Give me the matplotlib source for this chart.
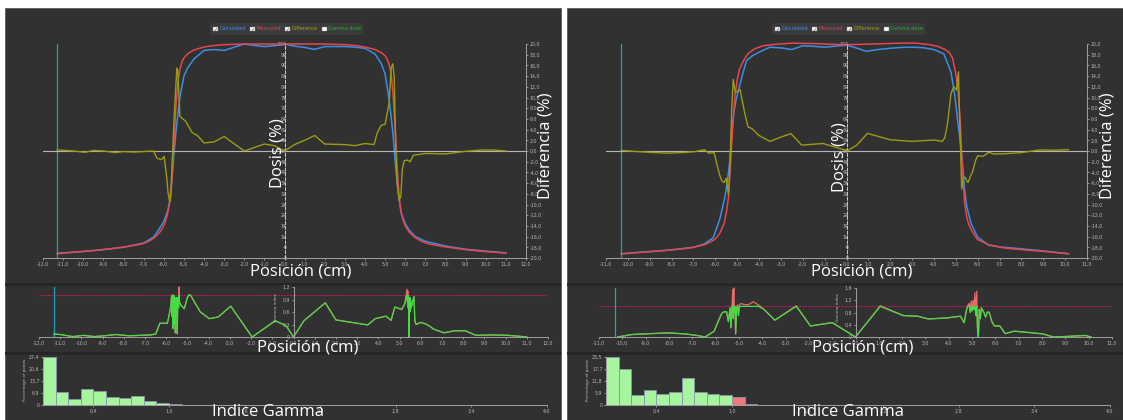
import matplotlib
matplotlib.use('Agg')
import matplotlib.pyplot as plt
from matplotlib.patches import Rectangle, FancyBboxPatch
from matplotlib.ticker import FuncFormatter, FixedLocator, MultipleLocator
import numpy as np

W, H = 1123, 420

# ---------------- left panel data ----------------
L_meas_x = [-11.3, -10.5, -9.5, -8.5, -7.5, -7.0, -6.7, -6.4, -6.2, -6.0, -5.9, -5.8, -5.7, -5.6,
            -5.5, -5.4, -5.3, -5.2, -5.1, -5.0, -4.8, -4.5, -4.0, -3.5, -3.0, -2.0, -1.0, 0.0, 1.0,
            2.0, 3.0, 3.5, 4.0, 4.5, 4.8, 5.0, 5.1, 5.2, 5.3, 5.4, 5.5, 5.6, 5.7, 5.8, 5.9, 6.0,
            6.2, 6.5, 6.8, 7.2, 8.0, 9.0, 10.0, 11.0]
L_meas_y = [2.0, 2.7, 3.5, 4.5, 5.8, 6.8, 8.0, 10.0, 12.0, 15.0, 17.5, 21, 26, 36,
            52, 70, 82, 88, 91.5, 93.5, 95.5, 97.2, 98.6, 99.3, 99.7, 100, 100, 100, 100,
            100, 99.7, 99.3, 98.6, 97.4, 96, 94.5, 93, 90.5, 86, 76, 60, 42, 28, 21, 17.5, 15,
            12, 9.5, 7.8, 6.5, 5.2, 3.9, 3.0, 2.3]
L_calc_x = [-11.3, -10, -9, -8, -7, -6.5, -6.3, -6.0, -5.8, -5.7, -5.6, -5.5, -5.4, -5.3, -5.2,
            -5.1, -5.0, -4.8, -4.5, -4.0, -3.5, -3.0, -2.5, -2.0, -1.5, -1.0, -0.5, 0.0, 0.5,
            1.0, 1.5, 2.0, 2.5, 3.0, 3.5, 4.0, 4.5, 4.8, 5.0, 5.1, 5.2, 5.3, 5.4, 5.5, 5.6,
            5.7, 5.8, 6.0, 6.2, 6.5, 7.0, 8.0, 9.0, 10.0, 11.0]
L_calc_y = [2.2, 3.0, 3.9, 5.0, 7.0, 9.8, 12.5, 17, 22, 27, 36, 48, 58, 67, 75,
            80, 85, 89, 93, 97, 97.4, 97.0, 98.5, 100, 99.3, 98.8, 99.2, 100, 99,
            98.4, 97.5, 98.8, 98.8, 98.8, 98.5, 98.0, 95.3, 91, 86, 80, 74, 66, 57, 45, 35,
            27, 21, 16, 13, 10, 7.8, 5.6, 4.1, 3.2, 2.4]
L_diff_x = [-11.3, -10.5, -9.9, -9.5, -9.0, -8.4, -8.0, -7.5, -7.0, -6.5, -6.35, -6.15, -6.05,
            -5.98, -5.85, -5.78, -5.7, -5.65, -5.58, -5.5, -5.4, -5.35, -5.3, -5.2, -5.05, -4.9,
            -4.6, -4.3, -4.0, -3.5, -3.0, -2.0, -1.0, -0.5, 0.0, 0.5, 1.0, 1.5, 2.0, 3.0, 3.5,
            4.0, 4.45, 4.6, 4.8, 5.0, 5.2, 5.3, 5.38, 5.45, 5.52, 5.6, 5.7, 5.78, 5.85, 5.95,
            6.1, 6.25, 6.4, 7.0, 8.0, 8.9, 9.8, 10.5, 11.0]
L_diff_y = [0.2, 0.0, -0.25, 0.1, 0.0, -0.3, -0.1, -0.2, -0.1, 0.0, -1.3, -1.6, -1.4,
            -1.0, -5.0, -8.0, -9.5, -8.5, -2.0, 5.0, 12.0, 15.5, 15.0, 6.5, 6.0, 5.5,
            3.5, 2.8, 1.5, 1.7, 2.7, 0.0, 1.3, 1.0, 0.0, 1.2, 2.0, 2.9, 1.3, 1.2, 1.0,
            1.4, 1.2, 3.3, 4.8, 5.0, 9.0, 15.5, 16.3, 14.0, 2.0, -6.0, -9.2, -8.5, -3.5, -1.8,
            -1.7, -2.0, -0.8, -0.45, -0.55, -0.1, 0.2, 0.15, 0.0]
L_gam_x = [-11.3, -11.0, -10.4, -9.9, -9.4, -8.9, -8.4, -7.75, -7.2, -6.75, -6.5, -6.3, -5.95,
           -5.88, -5.8, -5.75, -5.73, -5.71, -5.69, -5.67, -5.65, -5.63, -5.61, -5.59, -5.57,
           -5.55, -5.53, -5.51, -5.49, -5.48, -5.46, -5.44, -5.42, -5.4, -5.38, -5.31, -5.15,
           -5.0, -4.93, -4.85, -4.73, -4.39, -3.97, -3.55, -2.96, -1.95, -0.86, -0.35, 0.0, 0.49,
           1.5, 2.0, 3.5, 3.85, 4.36, 4.6, 4.78, 5.1, 5.25, 5.3, 5.35, 5.37, 5.39, 5.41, 5.43,
           5.45, 5.47, 5.49, 5.51, 5.55, 5.62, 5.68, 5.72, 5.78, 6.0, 6.25, 6.45, 6.6, 7.1, 7.6,
           8.1, 8.6, 9.4, 10.1, 10.6, 11.0]
L_gam_y = [0.07, 0.06, 0.01, 0.04, 0.01, 0.03, 0.06, 0.03, 0.04, 0.05, 0.07, 0.33, 0.33,
           0.48, 0.7, 0.97, 0.5, 1.02, 0.2, 0.9, 0.6, 1.0, 0.3, 0.85, 0.1,
           0.75, 0.95, 0.6, 0.9, 0.08, 0.8, 0.95, 0.7, 1.2, 0.85, 0.76, 0.68,
           0.95, 1.02, 1.0, 0.89, 0.6, 0.44, 0.48, 0.74, 0.0, 0.39, 0.27, 0.0, 0.39,
           0.82, 0.41, 0.29, 0.44, 0.5, 0.4, 0.72, 0.66, 0.8, 0.95, 1.15, 0.85, 1.1, 0.7, 0.95,
           0.0, 0.9, 0.6, 0.95, 0.7, 0.85, 0.97, 0.4, 0.3, 0.35, 0.31, 0.25, 0.19, 0.1, 0.15,
           0.15, 0.04, 0.05, 0.04, 0.02, 0.0]
L_hist = [27.4, 7.4, 3.2, 9.3, 7.9, 4.7, 3.8, 5.1, 2.1, 1.3, 0.8, 0.2, 0.15, 0.1, 0.1]
L_hist_ticklabels = ['0', '6,9', '13,7', '20,6', '27,4']

# ---------------- right panel data ----------------
R_meas_x = [-10.3, -9.5, -8.5, -7.5, -7.0, -6.5, -6.2, -6.0, -5.8, -5.6, -5.5, -5.4, -5.3, -5.2,
            -5.1, -5.0, -4.9, -4.7, -4.5, -4.2, -3.8, -3.3, -2.5, -1.5, -0.5, 0.0, 0.5, 1.5,
            2.5, 3.2, 3.8, 4.2, 4.5, 4.7, 4.85, 5.0, 5.1, 5.2, 5.3, 5.4, 5.5, 5.6, 5.7, 5.9,
            6.0, 6.5, 7.2, 8.0, 9.0, 10.15]
R_meas_y = [1.9, 2.6, 3.3, 4.3, 5.0, 6.2, 7.6, 8.9, 11.5, 16, 21, 28, 45, 62,
            76, 83, 88, 92.5, 95.5, 97.8, 99.2, 99.8, 100.4, 100.2, 99.8, 99.7, 99.8, 100.1,
            100.4, 100.4, 99.7, 98.8, 97.5, 96, 93.5, 86, 79, 64, 42, 26, 19, 15.5, 13.3, 10,
            8.6, 6.2, 4.7, 3.9, 3.1, 2.0]
R_calc_x = [-10.3, -9.0, -8.0, -7.0, -6.5, -6.1, -5.8, -5.55, -5.45, -5.35, -5.25, -5.15, -5.05,
            -4.9, -4.75, -4.57, -4.3, -4.0, -3.5, -3.0, -2.5, -2.0, -1.5, -1.0, -0.5, 0.0, 0.5,
            0.9, 1.5, 2.0, 2.5, 3.0, 3.5, 4.0, 4.45, 4.78, 4.95, 5.1, 5.2, 5.3, 5.4, 5.5, 5.7,
            6.0, 6.5, 7.0, 8.0, 9.0, 10.15]
R_calc_y = [2.0, 3.0, 3.8, 5.0, 6.6, 9.4, 18, 29, 36, 44, 58, 68, 74,
            80, 86, 92.3, 94.5, 96.2, 98.5, 98.2, 97.4, 99.2, 98.9, 98.5, 99.0, 99.5, 98.0,
            96.6, 97.5, 98.0, 98.4, 98.5, 98.3, 97.4, 95.4, 86.9, 76, 63, 55, 45, 32, 24, 16,
            9.7, 6.0, 5.2, 4.3, 3.3, 2.0]
R_diff_x = [-10.3, -9.6, -9.0, -8.2, -7.5, -6.9, -6.5, -6.3, -6.05, -5.95, -5.8, -5.7, -5.6,
            -5.5, -5.4, -5.32, -5.25, -5.18, -5.1, -5.05, -4.87, -4.65, -4.5, -4.33, -4.0, -3.5,
            -3.0, -2.54, -2.05, -1.07, -0.5, 0.05, 0.47, 0.96, 2.0, 3.0, 4.0, 4.38, 4.5, 4.62,
            4.78, 4.91, 5.03, 5.12, 5.18, 5.27, 5.35, 5.43, 5.5, 5.56, 5.68, 5.76, 5.9, 6.0,
            6.25, 6.5, 6.74, 7.3, 8.0, 8.85, 9.5, 10.15]
R_diff_y = [0.1, -0.1, -0.25, -0.4, -0.3, -0.1, 0.25, -0.4, -0.3, -2.1, -4.5, -5.6, -5.9,
            -5.1, -8.1, -2.0, 8.0, 13.4, 11.2, 11.0, 11.5, 7.0, 4.5, 4.2, 2.9, 1.8,
            2.6, 3.25, 1.1, 1.4, 0.7, 0.05, 1.1, 3.3, 2.1, 1.8, 2.05, 1.8, 2.5, 5.1,
            10.75, 12.0, 11.4, 14.8, 5.0, -7.1, -5.0, -4.9, -5.6, -5.9, -4.6, -4.0, -1.8, -0.9,
            -1.0, -0.25, -0.56, -0.5, -0.3, 0.2, 0.15, 0.25]
R_gam_x = [-10.2, -9.6, -8.8, -8.05, -7.3, -6.8, -6.45, -6.06, -5.91, -5.75, -5.68, -5.53, -5.45,
           -5.38, -5.34, -5.3, -5.26, -5.24, -5.22, -5.2, -5.17, -5.14, -5.1, -5.06, -5.02,
           -4.98, -4.92, -4.75, -4.61, -4.45, -4.38, -4.15, -3.92, -3.46, -2.54, -1.93, -1.0,
           0.0, 1.06, 2.05, 2.66, 3.12, 3.89, 4.5, 4.66, 4.75, 4.81, 4.88, 4.92, 4.96, 5.0,
           5.04, 5.08, 5.12, 5.16, 5.2, 5.23, 5.27, 5.31, 5.35, 5.4, 5.5, 5.58, 5.65, 5.73,
           5.85, 5.96, 6.19, 6.42, 6.8, 7.26, 8.03, 8.5, 9.1, 9.86, 10.1]
R_gam_y = [0.0, 0.08, 0.11, 0.135, 0.1, 0.05, 0.0, 0.19, 0.47, 0.75, 0.81, 0.83, 0.5,
           0.95, 0.3, 1.0, 1.55, 0.6, 1.6, 0.8, 1.0, 0.1, 0.95, 1.05, 0.7,
           1.05, 1.09, 1.06, 1.05, 1.12, 1.15, 1.04, 0.9, 0.55, 1.02, 0.36, 0.47,
           0.0, 1.02, 0.7, 0.68, 0.59, 0.62, 0.68, 0.47, 0.85, 1.02, 1.1, 0.8, 1.17, 0.85,
           1.2, 0.9, 1.45, 0.7, 1.5, 0.3, 0.0, 0.9, 0.6, 0.95, 0.81, 0.65, 0.81, 0.81,
           0.5, 0.36, 0.36, 0.11, 0.19, 0.16, 0.1, 0.0, 0.02, 0.05, 0.0]
R_hist = [23.5, 17.4, 4.9, 7.4, 5.3, 6.6, 13.1, 6.6, 5.3, 4.9, 4.1, 0.7, 0.2, 0.1, 0.1, 0.05]
R_hist_ticklabels = ['0', '5,9', '11,8', '17,7', '23,5']

HIST_XTICKS = [0.4, 1.0, 1.6, 2.2, 2.8, 3.4, 4.0]
LEGEND_ITEMS = [("Calculated", "#3f8fe0", True), ("Measured", "#d9434f", True),
                ("Difference", "#a3a31a", True), ("Gamma dose", "#22b022", False)]

BG = '#313131'
BAND = '#262626'
TICK = '#b8b8b8'
C_CALC = '#3a8ee8'
C_MEAS = '#e8464c'
C_DIFF = '#9c9c12'
C_GREEN = '#44dd44'
C_RED = '#e86a6a'
C_CYAN = '#1aa6b8'
TS = 3.4  # tick label size

BIG = dict(family='Open Sans', fontsize=12, color='white')


def comma(v, pos=None):
    return f"{v:.1f}".replace('.', ',')


def px_axes(fig, x0, y0, x1, y1):
    ax = fig.add_axes([x0 / W, 1 - y1 / H, (x1 - x0) / W, (y1 - y0) / H])
    ax.set_facecolor('none')
    return ax


def fig_text(fig, x, y, s, **kw):
    fig.text(x / W, 1 - y / H, s, ha='center', va='center', **kw)


def style(ax):
    for sp in ax.spines.values():
        sp.set_color('#a0a0a0')
        sp.set_linewidth(0.7)
    ax.tick_params(colors=TICK, labelsize=TS, length=1.5, width=0.5, pad=1)


def draw_panel(fig, px0, px1, lay, meas, calc, diff, gam, hist, hist_labels, gstep, gmax):
    # panel background and separators
    fig.patches.append(Rectangle((px0 / W, 0), (px1 - px0) / W, 1 - 8 / H,
                                 transform=fig.transFigure, facecolor=BG,
                                 edgecolor='#5a5a5a', lw=0.6, zorder=-10))
    for yb in (283, 352):
        fig.patches.append(Rectangle((px0 / W, 1 - (yb + 3) / H), (px1 - px0) / W, 3 / H,
                                     transform=fig.transFigure, facecolor=BAND,
                                     edgecolor='none', zorder=-9))

    xmin, xmax = lay['xlim']

    # ---- main dose profile ----
    ax = px_axes(fig, *lay['main'])
    style(ax)
    ax.set_xlim(xmin, xmax)
    ax.set_ylim(0, 100)
    ax.spines['top'].set_visible(False)
    ax.spines['right'].set_visible(False)
    ax.spines['left'].set_position(('data', 0))
    ax.spines['left'].set_linestyle((0, (3, 2)))
    ax.spines['left'].set_color('#d0d0d0')
    ax.xaxis.set_major_locator(MultipleLocator(1))
    ax.xaxis.set_major_formatter(FuncFormatter(comma))
    ax.yaxis.set_major_locator(FixedLocator(range(0, 101, 5)))
    ax.tick_params(axis='y', pad=-3)
    ax.axvline(lay['cursor'], ymin=0, ymax=1, color=C_CYAN, lw=0.9)
    ax.plot(calc[0], calc[1], color=C_CALC, lw=1.1, clip_on=False)
    ax.plot(meas[0], meas[1], color=C_MEAS, lw=1.1, clip_on=False)

    ax2 = ax.twinx()
    style(ax2)
    ax2.set_ylim(-20, 20)
    for s in ('left', 'top', 'bottom'):
        ax2.spines[s].set_visible(False)
    ax2.yaxis.set_major_locator(MultipleLocator(2))
    ax2.yaxis.set_major_formatter(FuncFormatter(comma))
    ax2.axhline(0, color='#b5b5b5', lw=0.8)
    ax2.plot(diff[0], diff[1], color=C_DIFF, lw=1.0)

    # ---- gamma index ----
    g = px_axes(fig, *lay['gamma'])
    style(g)
    g.set_xlim(xmin, xmax)
    g.set_ylim(0, gmax)
    g.spines['top'].set_visible(False)
    g.spines['right'].set_visible(False)
    g.spines['left'].set_position(('data', 0))
    g.xaxis.set_major_locator(MultipleLocator(1))
    g.xaxis.set_major_formatter(FuncFormatter(comma))
    g.yaxis.set_major_locator(MultipleLocator(gstep))
    g.yaxis.set_major_formatter(FuncFormatter(lambda v, p: '0' if v == 0 else comma(v)))
    g.axhline(1.0, color='#c8185a', lw=0.8, ls=(0, (1.5, 1)))
    g.axvline(lay['cursor'], color=C_CYAN, lw=0.9)
    gy = np.array(gam[1])
    g.plot(gam[0], gy, color=C_RED, lw=0.9, clip_on=False)
    g.plot(gam[0], np.minimum(gy, 1.0), color=C_GREEN, lw=0.9)

    # ---- histogram ----
    h = px_axes(fig, *lay['hist'])
    style(h)
    edges = np.arange(len(hist)) * 0.1
    cols = ['#f07a7a' if e >= 0.999 else '#a8f5a0' for e in edges]
    h.bar(edges, hist, width=0.1, align='edge', color=cols, edgecolor='#8b93b0', lw=0.6)
    h.set_xlim(0, 4.0)
    h.set_ylim(0, hist[0])
    h.spines['top'].set_visible(False)
    h.spines['right'].set_visible(False)
    h.set_xticks(HIST_XTICKS)
    h.xaxis.set_major_formatter(FuncFormatter(comma))
    h.set_yticks(np.linspace(0, hist[0], 5))
    h.set_yticklabels(hist_labels)

    # ---- texts ----
    for key, s, rot in (('lab_pos1', 'Posición (cm)', 0), ('lab_pos2', 'Posición (cm)', 0),
                        ('lab_gam', 'Indice Gamma', 0), ('lab_dose', 'Dosis (%)', 90),
                        ('lab_diff', 'Diferencia (%)', 90)):
        x, y = lay[key]
        fig_text(fig, x, y, s, rotation=rot, **BIG)
    x, y = lay['lab_pct']
    fig_text(fig, x, y, 'Percentage of points', rotation=90, fontsize=3.0, color=TICK)
    x, y = lay['lab_gi']
    fig_text(fig, x, y, 'Gamma index', rotation=90, fontsize=3.0, color=TICK)

    # ---- legend ----
    lx, ly = lay['legend']
    fig.patches.append(FancyBboxPatch(((lx - 2) / W, 1 - (ly + 6) / H), 153 / W, 12 / H,
                                      boxstyle='round,pad=0,rounding_size=0.004',
                                      transform=fig.transFigure, facecolor='#3b3b3e',
                                      edgecolor='none', zorder=1))
    offs = [0, 37, 72, 109]
    for (name, col, chk), o in zip(LEGEND_ITEMS, offs):
        bx = lx + o
        fig.patches.append(Rectangle(((bx + 1) / W, 1 - (ly + 2.3) / H), 4.6 / W, 4.6 / H,
                                     transform=fig.transFigure, facecolor='white',
                                     edgecolor='#888888', lw=0.3, zorder=2))
        if chk:
            fig.text((bx + 3.3) / W, 1 - ly / H, '\u2713', fontsize=3.6, color='#333333',
                     ha='center', va='center', zorder=3)
        fig.text((bx + 7.5) / W, 1 - ly / H, name, fontsize=3.6, color=col,
                 ha='left', va='center', zorder=3)


fig = plt.figure(figsize=(W / 100, H / 100), dpi=100, facecolor='white')

left_layout = dict(xlim=(-12, 12), main=(43, 44, 526, 258), gamma=(39, 287, 548, 337),
                   hist=(43, 357, 547, 405), cursor=-11.3,
                   lab_pos1=(301, 271), lab_pos2=(308, 347), lab_gam=(268, 412),
                   lab_dose=(277, 153), lab_diff=(546, 146), lab_pct=(25, 380),
                   lab_gi=(276, 308), legend=(212, 29))
right_layout = dict(xlim=(-11, 11), main=(606, 44, 1087, 258), gamma=(599, 288, 1112, 337),
                    hist=(606, 357, 1110, 405), cursor=-10.3,
                    lab_pos1=(862, 271), lab_pos2=(863, 347), lab_gam=(848, 412),
                    lab_dose=(840, 157), lab_diff=(1108, 146), lab_pct=(588, 380),
                    lab_gi=(838, 308), legend=(774, 29))

draw_panel(fig, 5, 561, left_layout, (L_meas_x, L_meas_y), (L_calc_x, L_calc_y),
           (L_diff_x, L_diff_y), (L_gam_x, L_gam_y), L_hist, L_hist_ticklabels, 0.3, 1.2)
draw_panel(fig, 567, 1123, right_layout, (R_meas_x, R_meas_y), (R_calc_x, R_calc_y),
           (R_diff_x, R_diff_y), (R_gam_x, R_gam_y), R_hist, R_hist_ticklabels, 0.4, 1.6)

fig.savefig('out.png', dpi=100, facecolor='white')
